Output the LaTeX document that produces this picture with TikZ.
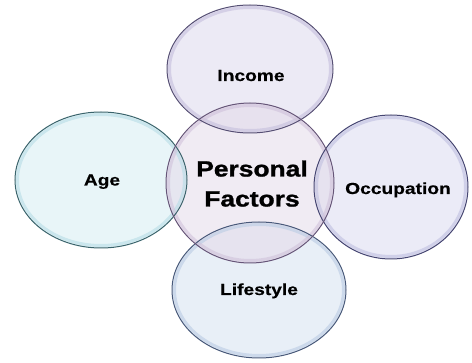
\documentclass[tikz,border=0pt]{standalone}
\usepackage{fontspec}
\newfontfamily\labfont[FakeStretch=1.2,FakeBold=0.4]{Liberation Sans Bold}
\newfontfamily\bigfont[FakeStretch=1.2,FakeBold=1.2]{Liberation Sans Bold}
\usetikzlibrary{shapes.geometric}
\definecolor{incB}{HTML}{564F74}
\definecolor{incF}{HTML}{DCD8EC}
\definecolor{incR}{HTML}{C4BEDC}
\definecolor{cenB}{HTML}{665578}
\definecolor{cenF}{HTML}{E4DAEA}
\definecolor{cenR}{HTML}{D0C2DA}
\definecolor{ageB}{HTML}{3A646C}
\definecolor{ageF}{HTML}{D6EDF2}
\definecolor{ageR}{HTML}{B6DCE6}
\definecolor{occB}{HTML}{464672}
\definecolor{occF}{HTML}{DADAF0}
\definecolor{occR}{HTML}{C0C0E0}
\definecolor{lifB}{HTML}{48597A}
\definecolor{lifF}{HTML}{D6E2F0}
\definecolor{lifR}{HTML}{BACCE4}
\begin{document}
\begin{tikzpicture}[x=1pt,y=-1pt,
  bubble/.style={ellipse, inner sep=0pt, fill opacity=0.55},
  rim/.style={line width=1pt},
  glass/.style={line width=3pt, opacity=0.6},
  lab/.style={font=\labfont\fontsize{16}{18}\selectfont, anchor=base, inner sep=0pt},
  big/.style={font=\bigfont\fontsize{22}{24}\selectfont, anchor=base, inner sep=0pt}]
\useasboundingbox (0,0) rectangle (472,363);
% fills
\node[bubble, fill=incF, minimum width=166pt, minimum height=128pt] (inc) at (250,69) {};
\node[bubble, fill=ageF, minimum width=172pt, minimum height=136pt] (age) at (101,180) {};
\node[bubble, fill=occF, minimum width=154pt, minimum height=144pt] (occ) at (391,187) {};
\node[bubble, fill=lifF, minimum width=174pt, minimum height=136pt] (lif) at (259,290) {};
\node[bubble, fill=cenF, minimum width=168pt, minimum height=160pt] (cen) at (250,183) {};
% inner glassy rings
\draw[glass, incR] (inc.center) ellipse [x radius=80.5pt, y radius=61.5pt];
\draw[glass, ageR] (age.center) ellipse [x radius=83.5pt, y radius=65.5pt];
\draw[glass, occR] (occ.center) ellipse [x radius=74.5pt, y radius=69.5pt];
\draw[glass, lifR] (lif.center) ellipse [x radius=84.5pt, y radius=65.5pt];
\draw[glass, cenR] (cen.center) ellipse [x radius=81.5pt, y radius=77.5pt];
% borders
\draw[rim, incB] (inc.center) ellipse [x radius=83pt, y radius=64pt];
\draw[rim, ageB] (age.center) ellipse [x radius=86pt, y radius=68pt];
\draw[rim, occB] (occ.center) ellipse [x radius=77pt, y radius=72pt];
\draw[rim, lifB] (lif.center) ellipse [x radius=87pt, y radius=68pt];
\draw[rim, cenB] (cen.center) ellipse [x radius=84pt, y radius=80pt];
% labels
\node[lab] (tinc) at (251,81) {Income};
\node[lab] (tage) at (102,185.5) {Age};
\node[lab] (tocc) at (398,194) {Occupation};
\node[lab] (tlif) at (259,295) {Lifestyle};
\node[big] (tp1) at (252,176.5) {Personal};
\node[big] (tp2) at (252,206.5) {Factors};
\end{tikzpicture}
\end{document}
